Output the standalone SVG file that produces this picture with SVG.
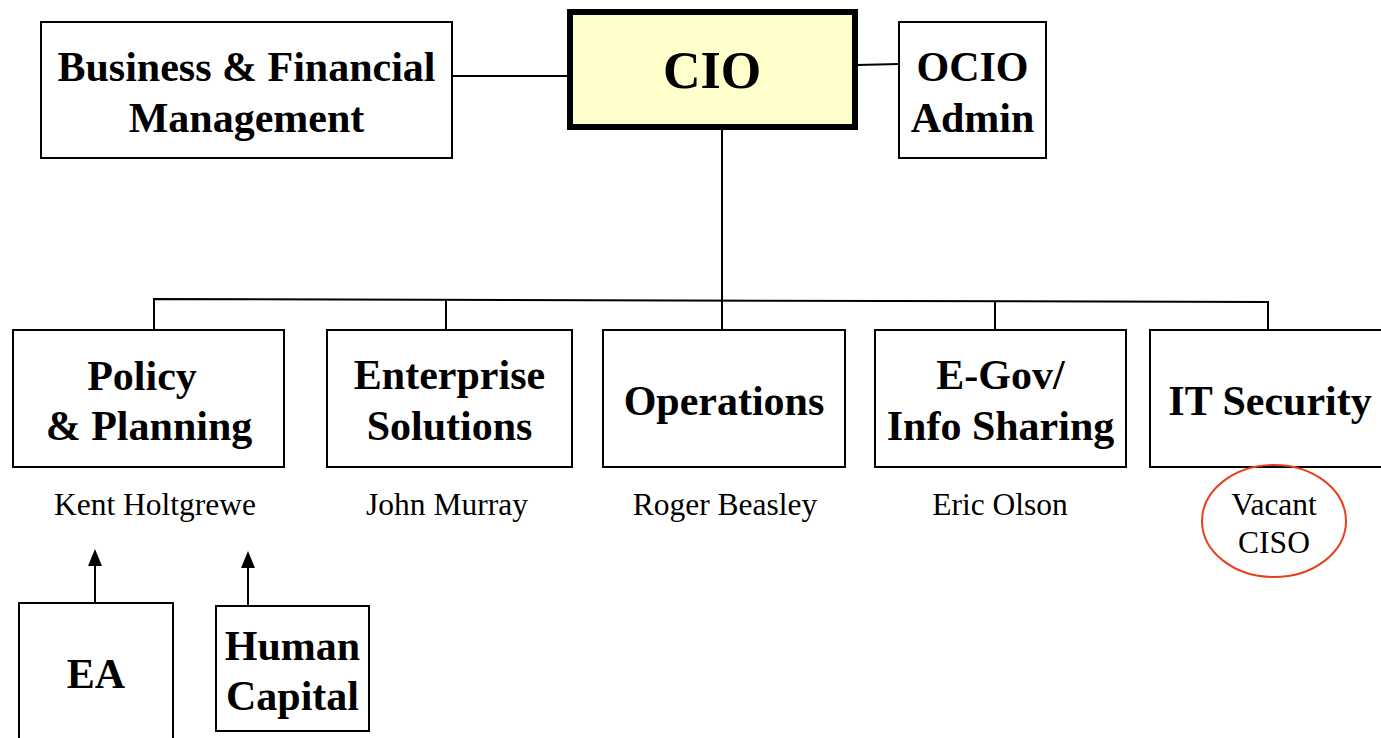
<svg xmlns="http://www.w3.org/2000/svg" width="1381" height="738" viewBox="0 0 1381 738">
<style>
.box{fill:#fff;stroke:#000;stroke-width:2}
.cio{fill:#ffffcc;stroke:#000;stroke-width:6}
.lbl{font-family:"Liberation Serif","Times New Roman",serif;font-weight:bold;font-size:42px;text-anchor:middle;fill:#000}
.nm{font-family:"Liberation Serif","Times New Roman",serif;font-size:31.5px;text-anchor:middle;fill:#000}
.ln{stroke:#000;stroke-width:2;fill:none}
</style>
<rect width="1381" height="738" fill="#fff"/>
<g id="connectors">
<line class="ln" x1="452" y1="76" x2="568" y2="76"/>
<line class="ln" x1="857" y1="65" x2="899" y2="64"/>
<line class="ln" x1="722" y1="129" x2="722" y2="331"/>
<polyline class="ln" points="154,330 154,299 1268,302 1268,330"/>
<line class="ln" x1="446" y1="301" x2="446" y2="330"/>
<line class="ln" x1="995" y1="302" x2="995" y2="330"/>
<line class="ln" x1="95" y1="603" x2="95" y2="564"/>
<polygon points="88,566 95,549 102,566" fill="#000"/>
<line class="ln" x1="248" y1="606" x2="248" y2="566"/>
<polygon points="241,568 248,551 255,568" fill="#000"/>
</g>
<g id="bfm">
<rect class="box" x="41" y="22" width="411" height="136"/>
<text class="lbl" x="246.5" y="81">Business &amp; Financial</text>
<text class="lbl" x="246.5" y="132">Management</text>
</g>
<g id="cio">
<rect class="cio" x="570" y="12" width="285" height="115"/>
<text class="lbl" x="712" y="88" style="font-size:52px">CIO</text>
</g>
<g id="ocio">
<rect class="box" x="899" y="22" width="147" height="136"/>
<text class="lbl" x="972.5" y="81">OCIO</text>
<text class="lbl" x="972.5" y="132">Admin</text>
</g>
<g id="policy">
<rect class="box" x="13" y="330" width="271" height="137"/>
<text class="lbl" x="142" y="390">Policy</text>
<text class="lbl" x="149" y="440">&amp; Planning</text>
<text class="nm" x="155" y="515">Kent Holtgrewe</text>
</g>
<g id="enterprise">
<rect class="box" x="327" y="330" width="245" height="137"/>
<text class="lbl" x="449.5" y="389">Enterprise</text>
<text class="lbl" x="449.5" y="440">Solutions</text>
<text class="nm" x="447" y="515">John Murray</text>
</g>
<g id="operations">
<rect class="box" x="603" y="330" width="242" height="137"/>
<text class="lbl" x="724" y="415">Operations</text>
<text class="nm" x="725" y="515">Roger Beasley</text>
</g>
<g id="egov">
<rect class="box" x="875" y="330" width="251" height="137"/>
<text class="lbl" x="1000.5" y="389">E-Gov/</text>
<text class="lbl" x="1000.5" y="440">Info Sharing</text>
<text class="nm" x="1000" y="515">Eric Olson</text>
</g>
<g id="itsec">
<rect class="box" x="1150" y="330" width="240" height="137"/>
<text class="lbl" x="1270" y="415">IT Security</text>
</g>
<g id="ciso">
<ellipse cx="1274" cy="521" rx="72" ry="56" fill="none" stroke="#e8401c" stroke-width="2"/>
<text class="nm" x="1274" y="515">Vacant</text>
<text class="nm" x="1274" y="553">CISO</text>
</g>
<g id="ea">
<rect class="box" x="19" y="603" width="154" height="150"/>
<text class="lbl" x="96" y="688">EA</text>
</g>
<g id="hc">
<rect class="box" x="216" y="606" width="153" height="125"/>
<text class="lbl" x="292.5" y="660">Human</text>
<text class="lbl" x="292.5" y="710">Capital</text>
</g>
</svg>
